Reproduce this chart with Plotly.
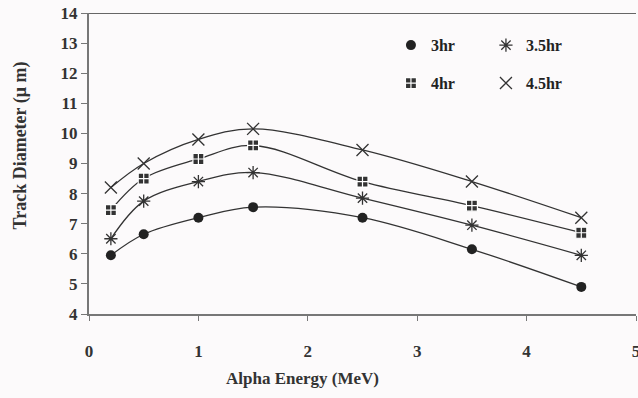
import plotly.graph_objects as go

energy = [0.2, 0.5, 1.0, 1.5, 2.5, 3.5, 4.5]
d_3hr = [5.95, 6.65, 7.2, 7.55, 7.2, 6.15, 4.9]
d_35hr = [6.5, 7.75, 8.4, 8.7, 7.85, 6.95, 5.95]
d_4hr = [7.45, 8.5, 9.15, 9.6, 8.4, 7.6, 6.7]
d_45hr = [8.2, 9.0, 9.8, 10.15, 9.45, 8.4, 7.2]

x_ticks = [0, 1, 2, 3, 4, 5]
y_ticks = [4, 5, 6, 7, 8, 9, 10, 11, 12, 13, 14]

font_fam = "Liberation Serif"
lc = "#333333"

series = [
    ("3hr", d_3hr, dict(symbol="circle", size=10, color="#222222"), "legend"),
    ("3.5hr", d_35hr, dict(symbol="asterisk-open", size=11, color="#333333", line=dict(width=1.3, color="#333333")), "legend"),
    ("4hr", d_4hr, dict(symbol="square-cross", size=11, color="#333333", line=dict(width=1.2, color="white")), "legend2"),
    ("4.5hr", d_45hr, dict(symbol="x-thin-open", size=12, color="#333333", line=dict(width=1.3, color="#333333")), "legend2"),
]

fig = go.Figure()
for name, ys, mk, lg in series:
    fig.add_trace(go.Scatter(
        x=energy, y=ys, name=name, mode="lines+markers",
        line=dict(color=lc, width=1.3, shape="spline", smoothing=1.0),
        marker=mk, showlegend=False,
    ))
for name, ys, mk, lg in series:
    fig.add_trace(go.Scatter(
        x=[None], y=[None], name=name, mode="markers", marker=mk, legend=lg,
    ))

leg_common = dict(orientation="h", bgcolor="rgba(0,0,0,0)", entrywidth=50,
                  font=dict(family=font_fam, size=16, color="#222222", weight="bold"),
                  xanchor="left", yanchor="middle", itemwidth=30)

fig.update_layout(
    width=638, height=398,
    margin=dict(l=89, r=2, t=13, b=84, autoexpand=False),
    paper_bgcolor="#fcfafb", plot_bgcolor="#fcfafb",
    showlegend=True,
    legend=dict(x=0.552, y=0.893, **leg_common),
    legend2=dict(x=0.552, y=0.767, **leg_common),
    xaxis=dict(
        range=[0, 5], tickvals=x_ticks, ticks="outside", ticklen=5,
        tickcolor="#777777", showgrid=False, zeroline=False, automargin=False,
        showline=True, linecolor="#777777", linewidth=2,
        ticklabeloverflow="allow", ticklabelstandoff=16,
        tickfont=dict(family=font_fam, size=17, color="#333333", weight="bold"),
    ),
    yaxis=dict(
        range=[4, 14], tickvals=y_ticks, ticks="outside", ticklen=6,
        tickcolor="#777777", showgrid=False, zeroline=False, automargin=False,
        showline=True, linecolor="#777777", linewidth=2,
        tickfont=dict(family=font_fam, size=17, color="#333333", weight="bold"),
    ),
    shapes=[dict(type="line", xref="paper", yref="y", x0=0, x1=1, y0=14, y1=14,
                 line=dict(color="#666666", width=2))],
    annotations=[
        dict(text="Alpha Energy (MeV)", xref="x", yref="paper", x=1.95, y=-0.215,
             showarrow=False, xanchor="center", yanchor="middle",
             font=dict(family=font_fam, size=17, color="#333333", weight="bold")),
        dict(text="Track Diameter (\u03bc m)", xref="paper", yref="paper", x=-0.126, y=0.56,
             showarrow=False, xanchor="center", yanchor="middle", textangle=-90,
             font=dict(family=font_fam, size=18, color="#333333", weight="bold")),
    ],
)

fig.write_html("out.html")
